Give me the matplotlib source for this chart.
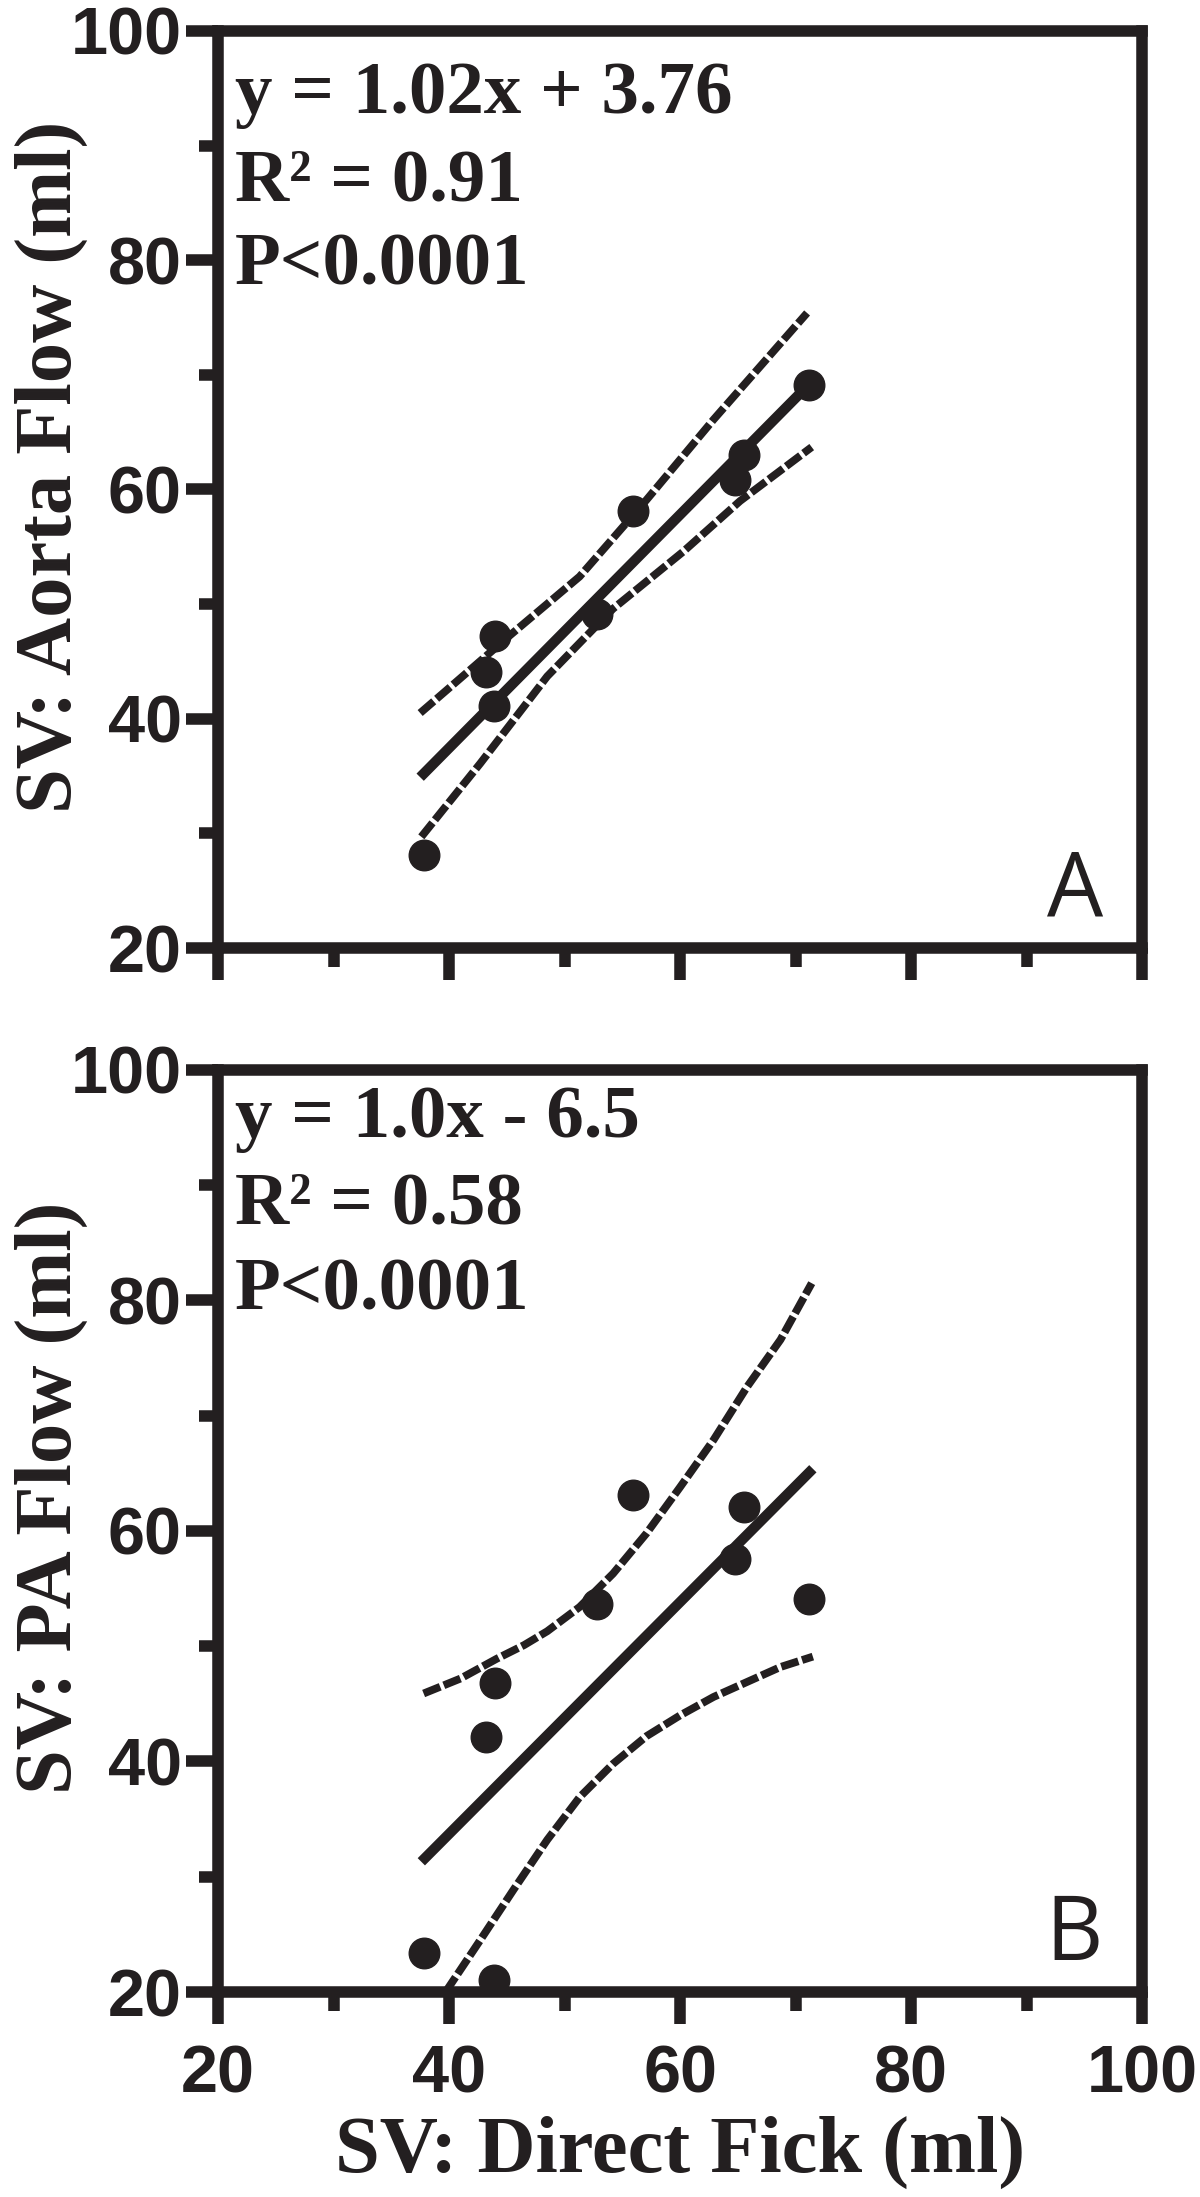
import matplotlib.pyplot as plt
from matplotlib.ticker import MultipleLocator

# SV by direct Fick (shared x for both panels)
fick_sv = [37.8, 43.2, 44.0, 43.9, 52.8, 55.9, 64.8, 65.5, 71.2]
aorta_sv = [28.1, 44.1, 47.2, 41.1, 49.1, 58.1, 60.8, 63.0, 69.1]
pa_sv = [23.4, 42.1, 46.8, 21.0, 53.7, 63.1, 57.6, 62.1, 54.1]

# regression lines (end points)
fit_a_x = [37.5, 71.2]
fit_a_y = [34.9, 69.2]
fit_b_x = [37.6, 71.5]
fit_b_y = [31.3, 65.4]

# confidence bands
upper_a_x = [37.5, 39.8, 45.3, 51.3, 57.1, 62.9, 71.0]
upper_a_y = [40.5, 42.5, 47.3, 52.4, 59.1, 66.1, 75.4]
lower_a_x = [37.6, 42.7, 48.5, 54.2, 60.3, 65.2, 71.4]
lower_a_y = [29.7, 36.1, 43.7, 49.6, 54.6, 59.0, 63.7]

upper_b_x = [37.8, 41.0, 44.1, 46.5, 48.5, 51.3, 54.2, 57.1, 60.0, 62.9, 65.8, 68.7, 71.4]
upper_b_y = [45.9, 47.2, 48.9, 50.1, 51.3, 53.4, 56.3, 59.8, 63.8, 67.9, 72.5, 76.6, 81.5]
lower_b_x = [39.7, 42.7, 45.6, 48.5, 51.3, 54.2, 57.1, 60.0, 62.9, 65.8, 68.7, 71.5]
lower_b_y = [20.0, 24.5, 28.9, 33.2, 36.9, 39.8, 42.2, 44.0, 45.6, 46.9, 48.2, 49.1]

stats_a = ["y = 1.02x + 3.76", "R\u00b2 = 0.91", "P<0.0001"]
stats_b = ["y = 1.0x - 6.5", "R\u00b2 = 0.58", "P<0.0001"]

ticks = [20, 40, 60, 80, 100]
ink = '#231f20'
serif = 'Liberation Serif'

fig = plt.figure(figsize=(12, 21.97), dpi=100)
ax_a = fig.add_axes([0.1817, 0.5685, 0.77, 0.4174])
ax_b = fig.add_axes([0.1817, 0.0933, 0.77, 0.4197])


def style(ax, show_xlabels):
    ax.set_xlim(20, 100)
    ax.set_ylim(20, 100)
    for s in ax.spines.values():
        s.set_linewidth(8.3)
        s.set_color(ink)
    ax.set_xticks(ticks)
    ax.set_yticks(ticks)
    ax.xaxis.set_minor_locator(MultipleLocator(10))
    ax.yaxis.set_minor_locator(MultipleLocator(10))
    ax.tick_params(which='major', direction='out', length=23, width=8.3, color=ink)
    ax.tick_params(which='minor', direction='out', length=14, width=8.3, color=ink)
    ax.tick_params(axis='x', which='major', pad=15)
    ax.tick_params(axis='y', which='major', pad=3)
    for lab in ax.get_xticklabels() + ax.get_yticklabels():
        lab.set_fontfamily('Liberation Sans')
        lab.set_fontweight('bold')
        lab.set_fontsize(48)
        lab.set_color(ink)
    if not show_xlabels:
        ax.set_xticklabels([])


def draw(ax, y, fx, fy, ux, uy, lx, ly, stats, letter, stat_y, ylabel, ylab_y):
    dash = (0, (2.3, 0.5))
    ax.plot(ux, uy, color=ink, lw=5.6, ls=dash, zorder=2)
    ax.plot(lx, ly, color=ink, lw=5.6, ls=dash, zorder=2)
    ax.plot(fx, fy, color=ink, lw=7.4, solid_capstyle='butt', zorder=3)
    ax.plot(fick_sv, y, 'o', color=ink, ms=22, zorder=4, clip_on=False)
    for txt, ty in zip(stats, stat_y):
        ax.text(0.018, ty, txt, transform=ax.transAxes, family=serif,
                fontweight='bold', fontsize=54, color=ink, va='baseline')
    ax.text(0.958, 0.035, letter, transform=ax.transAxes, family='Open Sans',
            fontweight='normal', fontsize=64, color=ink, ha='right', va='baseline')
    ax.text(-0.159, ylab_y, ylabel, transform=ax.transAxes, family=serif,
            fontweight='bold', fontsize=58, color=ink, rotation=90,
            rotation_mode='anchor', ha='center', va='baseline')


style(ax_a, False)
style(ax_b, True)
draw(ax_a, aorta_sv, fit_a_x, fit_a_y, upper_a_x, upper_a_y, lower_a_x, lower_a_y,
     stats_a, 'A', [0.911, 0.815, 0.723], 'SV: Aorta Flow (ml)', 0.525)
draw(ax_b, pa_sv, fit_b_x, fit_b_y, upper_b_x, upper_b_y, lower_b_x, lower_b_y,
     stats_b, 'B', [0.927, 0.834, 0.740], 'SV: PA Flow (ml)', 0.536)

ax_b.text(0.5, -0.195, 'SV: Direct Fick (ml)', transform=ax_b.transAxes, family=serif,
          fontweight='bold', fontsize=58, color=ink, ha='center', va='baseline')

fig.savefig('out.png', dpi=100)
